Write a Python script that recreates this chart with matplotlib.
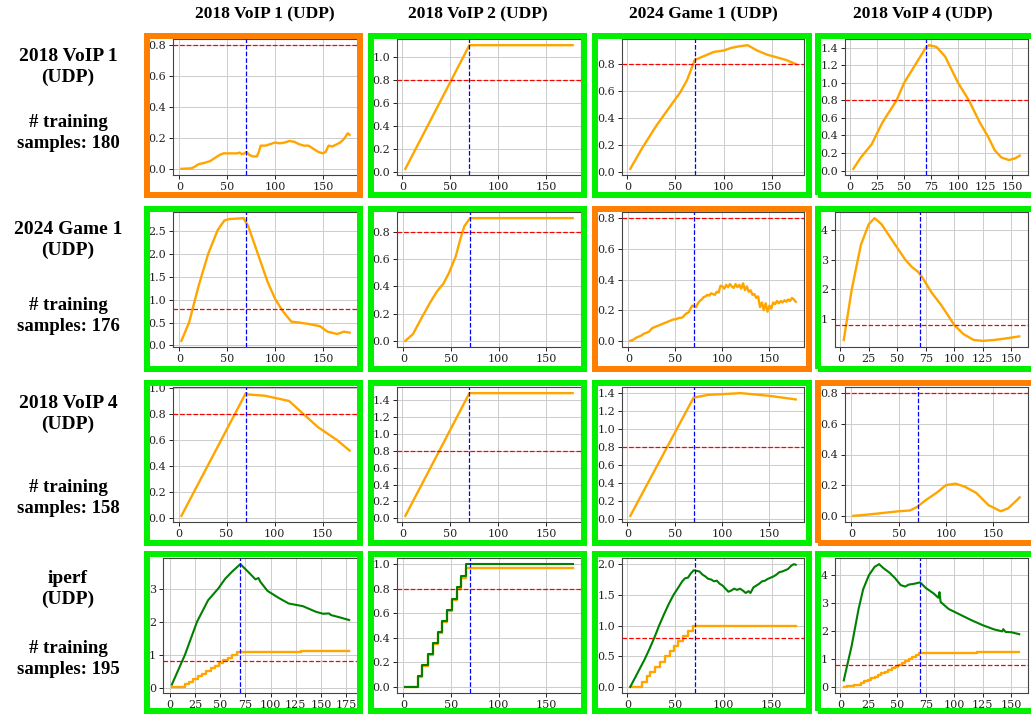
import numpy as np
import matplotlib.pyplot as plt
from matplotlib.patches import Rectangle
from matplotlib.ticker import MultipleLocator

W, H = 1031, 715

col_titles = ['2018 VoIP 1 (UDP)', '2018 VoIP 2 (UDP)', '2024 Game 1 (UDP)', '2018 VoIP 4 (UDP)']
row_names = ['2018 VoIP 1\n(UDP)', '2024 Game 1\n(UDP)', '2018 VoIP 4\n(UDP)', 'iperf\n(UDP)']
row_samples = [180, 176, 158, 195]
threshold = 0.8
split_x = 70

# row 1 (trained on 2018 VoIP 1)
r1c1_x = [2, 12, 15, 20, 27, 32, 37, 42, 46, 55, 60, 63, 65, 68, 70, 73, 77, 81, 83, 85, 90, 95, 100,
          105, 110, 115, 120, 125, 130, 135, 140, 145, 150, 153, 156, 160, 165, 168, 170, 173, 176, 178]
r1c1_y = [0.0, 0.003, 0.01, 0.03, 0.04, 0.05, 0.07, 0.09, 0.10, 0.10, 0.10, 0.105, 0.095, 0.10, 0.11,
          0.09, 0.08, 0.08, 0.11, 0.15, 0.15, 0.16, 0.17, 0.165, 0.17, 0.18, 0.175, 0.16, 0.15, 0.15,
          0.13, 0.11, 0.10, 0.11, 0.15, 0.145, 0.16, 0.17, 0.18, 0.20, 0.23, 0.22]
r1c2_x = [3, 70, 178]
r1c2_y = [0.03, 1.10, 1.10]
r1c3_x = [3, 15, 30, 45, 55, 62, 70, 80, 90, 100, 108, 115, 125, 135, 145, 155, 165, 175]
r1c3_y = [0.02, 0.17, 0.34, 0.49, 0.59, 0.68, 0.83, 0.86, 0.89, 0.90, 0.92, 0.93, 0.94, 0.90, 0.87, 0.85, 0.83, 0.80]
r1c4_x = [3, 10, 20, 30, 43, 50, 60, 70, 73, 80, 88, 100, 110, 120, 128, 134, 140, 147, 153, 157]
r1c4_y = [0.02, 0.15, 0.30, 0.55, 0.80, 1.00, 1.20, 1.40, 1.43, 1.41, 1.30, 1.00, 0.80, 0.55, 0.38, 0.23, 0.15, 0.12, 0.14, 0.17]

# row 2 (trained on 2024 Game 1)
r2c1_x = [2, 10, 20, 30, 40, 47, 52, 60, 67, 72, 82, 92, 100, 108, 117, 125, 135, 147, 155, 165, 172, 178]
r2c1_y = [0.10, 0.50, 1.30, 2.00, 2.52, 2.73, 2.76, 2.77, 2.78, 2.60, 2.00, 1.40, 1.02, 0.75, 0.52, 0.50,
          0.47, 0.42, 0.30, 0.25, 0.30, 0.28]
r2c2_x = [2, 10, 20, 28, 35, 42, 48, 55, 60, 64, 68, 70, 178]
r2c2_y = [0.0, 0.05, 0.18, 0.28, 0.36, 0.42, 0.50, 0.62, 0.75, 0.84, 0.88, 0.90, 0.90]
r2c3_x = np.arange(2, 180, 2)
r2c3_y = [0.00, 0.005, 0.01, 0.02, 0.025, 0.03, 0.035, 0.045, 0.05, 0.055, 0.06, 0.075, 0.085, 0.09,
          0.095, 0.10, 0.105, 0.11, 0.115, 0.12, 0.125, 0.13, 0.135, 0.14, 0.14, 0.145, 0.15, 0.15,
          0.155, 0.17, 0.18, 0.185, 0.21, 0.23, 0.225, 0.22, 0.245, 0.26, 0.27, 0.285, 0.29, 0.30,
          0.295, 0.31, 0.305, 0.30, 0.32, 0.315, 0.36, 0.355, 0.34, 0.365, 0.35, 0.37, 0.355, 0.345,
          0.37, 0.35, 0.365, 0.34, 0.375, 0.33, 0.355, 0.32, 0.33, 0.30, 0.305, 0.28, 0.29, 0.22,
          0.25, 0.20, 0.245, 0.19, 0.23, 0.21, 0.25, 0.24, 0.26, 0.245, 0.26, 0.25, 0.265, 0.255,
          0.27, 0.26, 0.28, 0.27, 0.255]
r2c4_x = [3, 10, 18, 25, 30, 36, 43, 50, 57, 63, 68, 72, 80, 88, 95, 100, 108, 117, 125, 135, 145, 157]
r2c4_y = [0.30, 2.00, 3.50, 4.20, 4.40, 4.20, 3.80, 3.40, 3.00, 2.75, 2.60, 2.40, 1.90, 1.50, 1.10, 0.80,
          0.50, 0.30, 0.27, 0.30, 0.35, 0.42]

# row 3 (trained on 2018 VoIP 4)
r3c1_x = [3, 70, 72, 90, 115, 130, 145, 165, 178]
r3c1_y = [0.02, 0.96, 0.95, 0.94, 0.90, 0.80, 0.70, 0.60, 0.52]
r3c2_x = [3, 70, 178]
r3c2_y = [0.03, 1.48, 1.48]
r3c3_x = [3, 70, 85, 120, 150, 178]
r3c3_y = [0.03, 1.35, 1.38, 1.40, 1.37, 1.33]
r3c4_x = [2, 20, 35, 50, 62, 70, 78, 90, 100, 110, 120, 132, 145, 158, 166, 178]
r3c4_y = [0.0, 0.01, 0.02, 0.03, 0.035, 0.06, 0.10, 0.15, 0.20, 0.21, 0.19, 0.15, 0.07, 0.03, 0.05, 0.12]

# row 4 (trained on iperf): green = first curve, orange = staircase
r4c1_gx = [2, 15, 27, 38, 48, 55, 62, 70, 78, 85, 88, 90, 97, 108, 118, 132, 145, 152, 158, 160, 170, 178]
r4c1_gy = [0.10, 1.00, 2.00, 2.65, 3.00, 3.30, 3.52, 3.74, 3.50, 3.28, 3.32, 3.20, 2.93, 2.72, 2.55, 2.47,
           2.30, 2.24, 2.25, 2.20, 2.12, 2.05]
r4c1_ox = [2, 15, 19, 23, 28, 32, 36, 41, 45, 49, 53, 58, 62, 67, 100, 130, 178]
r4c1_oy = [0.03, 0.11, 0.19, 0.27, 0.35, 0.43, 0.51, 0.59, 0.67, 0.75, 0.83, 0.91, 0.99, 1.07, 1.08, 1.10, 1.12]
r4c2_gx = [2, 15, 20, 26, 31, 36, 41, 46, 51, 56, 61, 66, 178]
r4c2_gy = [0.0, 0.09, 0.18, 0.27, 0.36, 0.45, 0.54, 0.63, 0.72, 0.81, 0.90, 1.00, 1.00]
r4c2_ox = [2, 15, 20, 26, 31, 36, 41, 46, 51, 56, 61, 66, 178]
r4c2_oy = [0.0, 0.08, 0.17, 0.26, 0.35, 0.44, 0.53, 0.62, 0.71, 0.80, 0.89, 0.97, 0.97]
r4c3_gx = [3, 8, 13, 18, 23, 28, 33, 38, 43, 48, 53, 57, 60, 63, 66, 69, 72, 75, 78, 81, 84, 87, 90, 93,
           96, 99, 102, 105, 108, 111, 114, 117, 120, 123, 126, 128, 131, 134, 137, 140, 143, 146, 149,
           152, 155, 158, 161, 164, 167, 170, 173, 175]
r4c3_gy = [0.0, 0.15, 0.30, 0.45, 0.62, 0.80, 1.00, 1.18, 1.35, 1.50, 1.62, 1.72, 1.77, 1.78, 1.85, 1.90,
           1.89, 1.88, 1.83, 1.80, 1.76, 1.75, 1.72, 1.73, 1.68, 1.65, 1.60, 1.55, 1.57, 1.60, 1.58, 1.60,
           1.57, 1.53, 1.56, 1.53, 1.62, 1.65, 1.68, 1.72, 1.73, 1.76, 1.78, 1.80, 1.83, 1.87, 1.88, 1.90,
           1.92, 1.97, 2.00, 1.99]
r4c3_ox = [3, 15, 20, 24, 29, 34, 39, 44, 48, 53, 58, 63, 68, 175]
r4c3_oy = [0.0, 0.08, 0.17, 0.25, 0.33, 0.41, 0.50, 0.58, 0.66, 0.74, 0.83, 0.91, 0.99, 0.99]
r4c4_gx = [3, 10, 16, 20, 25, 30, 34, 38, 43, 48, 53, 57, 60, 65, 70, 75, 82, 86, 87, 88, 95, 105,
           115, 125, 135, 142, 143, 145, 150, 157]
r4c4_gy = [0.25, 1.50, 2.80, 3.50, 4.00, 4.30, 4.40, 4.25, 4.10, 3.90, 3.65, 3.60, 3.67, 3.70, 3.75,
           3.55, 3.35, 3.20, 3.40, 3.05, 2.80, 2.60, 2.40, 2.22, 2.07, 2.00, 2.08, 1.98, 1.97, 1.90]
r4c4_ox = [3, 6, 9, 12, 15, 18, 21, 24, 27, 30, 33, 36, 39, 42, 45, 48, 51, 54, 57, 60, 63, 66, 69, 90, 120, 157]
r4c4_oy = [0.02, 0.04, 0.06, 0.08, 0.10, 0.17, 0.22, 0.28, 0.33, 0.38, 0.44, 0.50, 0.56, 0.62, 0.68,
           0.74, 0.80, 0.87, 0.95, 1.02, 1.08, 1.15, 1.23, 1.24, 1.26, 1.27]

# panels: (orange x, orange y, green x, green y, ytick step, xtick step, frame colour)
panels = [
    [(r1c1_x, r1c1_y, None, None, 0.2, 50, 'o'), (r1c2_x, r1c2_y, None, None, 0.2, 50, 'g'),
     (r1c3_x, r1c3_y, None, None, 0.2, 50, 'g'), (r1c4_x, r1c4_y, None, None, 0.2, 25, 'g')],
    [(r2c1_x, r2c1_y, None, None, 0.5, 50, 'g'), (r2c2_x, r2c2_y, None, None, 0.2, 50, 'g'),
     (r2c3_x, r2c3_y, None, None, 0.2, 50, 'o'), (r2c4_x, r2c4_y, None, None, 1, 25, 'g')],
    [(r3c1_x, r3c1_y, None, None, 0.2, 50, 'g'), (r3c2_x, r3c2_y, None, None, 0.2, 50, 'g'),
     (r3c3_x, r3c3_y, None, None, 0.2, 50, 'g'), (r3c4_x, r3c4_y, None, None, 0.2, 50, 'o')],
    [(r4c1_ox, r4c1_oy, r4c1_gx, r4c1_gy, 1, 25, 'g'), (r4c2_ox, r4c2_oy, r4c2_gx, r4c2_gy, 0.2, 50, 'g'),
     (r4c3_ox, r4c3_oy, r4c3_gx, r4c3_gy, 0.5, 50, 'g'), (r4c4_ox, r4c4_oy, r4c4_gx, r4c4_gy, 1, 25, 'g')],
]

# layout in pixels
cell_cols = [(144, 363), (368, 587), (592, 812), (815, 1036)]
cell_rows = [(33, 198), (206, 372), (380, 546), (551, 714)]
ax_cols = [(173, 358), (397, 581), (622, 804), (845, 1028)]
ax_rows = [(39, 175), (212, 347), (387, 522), (558, 693)]
frame_colors = {'o': '#ff8000', 'g': '#00f000'}

fig = plt.figure(figsize=(W / 100, H / 100), dpi=100)


def fbox(l, t, r, b):
    return [l / W, 1 - b / H, (r - l) / W, (b - t) / H]


for i in range(4):
    for j in range(4):
        ox, oy, gx, gy, ystep, xstep, fc = panels[i][j]
        # frame
        l, r = cell_cols[j]
        t, b = cell_rows[i]
        fig.patches.append(Rectangle(((l + 3) / W, 1 - (b - 3) / H), (r - l - 6) / W, (b - t - 6) / H,
                                     transform=fig.transFigure, fill=False, lw=4.3,
                                     edgecolor=frame_colors[fc], zorder=0))
        al, ar = ax_cols[j]
        at, ab = ax_rows[i]
        if ystep == 1:
            al -= 10
        ax = fig.add_axes(fbox(al, at, ar, ab))
        if i == 3:
            ax.step(ox, oy, where='post', color='orange', lw=1.7, zorder=2)
            if j == 1:
                ax.step(gx, gy, where='post', color='green', lw=1.5, zorder=3)
            else:
                ax.plot(gx, gy, color='green', lw=1.5, zorder=3)
        else:
            ax.plot(ox, oy, color='orange', lw=1.7, zorder=2)
        ax.axhline(threshold, color='red', ls='--', lw=0.9, zorder=4)
        ax.axvline(split_x, color='blue', ls='--', lw=0.9, zorder=4)
        ax.xaxis.set_major_locator(MultipleLocator(xstep))
        ax.yaxis.set_major_locator(MultipleLocator(ystep))
        if ystep < 1:
            ax.yaxis.set_major_formatter('{x:.1f}')
        else:
            ax.yaxis.set_major_formatter('{x:.0f}')
        ax.grid(True, color='#cccccc', lw=0.7)
        ax.set_axisbelow(True)
        ax.tick_params(labelsize=8, length=3, width=0.7, colors='#222222', pad=2)
        for lab in ax.get_xticklabels() + ax.get_yticklabels():
            lab.set_family('DejaVu Serif')
        for sp in ax.spines.values():
            sp.set_color('#444444')
            sp.set_linewidth(0.8)

col_x = [265, 478, 703, 923]
for j in range(4):
    fig.text(col_x[j] / W, 1 - 14 / H, col_titles[j], ha='center', va='center',
             family='Liberation Serif', weight='bold', fontsize=12.5)

name_y = [67, 240, 414, 589]
samp_y = [133, 316, 498, 659]
for i in range(4):
    fig.text(68 / W, 1 - name_y[i] / H, row_names[i], ha='center', va='center',
             family='Liberation Serif', weight='bold', fontsize=14, linespacing=1.25)
    fig.text(68 / W, 1 - samp_y[i] / H, '# training\nsamples: %d' % row_samples[i], ha='center',
             va='center', family='Liberation Serif', weight='bold', fontsize=13.5, linespacing=1.25)

fig.savefig('out.png', dpi=100)
